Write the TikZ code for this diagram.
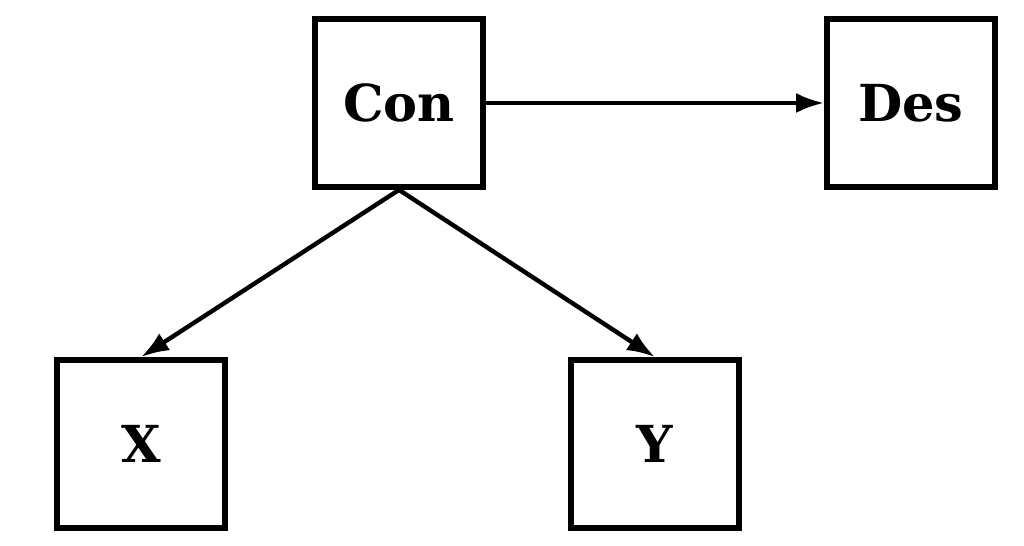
\documentclass[tikz,border=0pt]{standalone}
\usepackage{fontspec}
\setmainfont{DejaVu Serif}
\usetikzlibrary{positioning,arrows.meta}
\tikzset{%
  block/.style={draw, rectangle, line width=1.6pt, minimum size=1.68cm,
    font=\fontsize{14.5}{17}\selectfont\bfseries},% square box
  link/.style={line width=1.25pt, -{Latex[length=2.8mm,width=2mm]}}% connector
}
\begin{document}
\begin{tikzpicture}[x=0.01cm, y=-0.01cm]
\useasboundingbox (0,0) rectangle (1024,546);

\node[block] (con) at (399, 103) {Con};
\node[block] (des) at (911, 103) {Des};
\node[block] (x)   at (141, 444) {X};
\node[block] (y)   at (655, 444) {Y};

\draw[link] (con.east) -- (des.west);
\draw[link] (con.south) -- (x.north);
\draw[link] (con.south) -- (y.north);

\end{tikzpicture}
\end{document}
